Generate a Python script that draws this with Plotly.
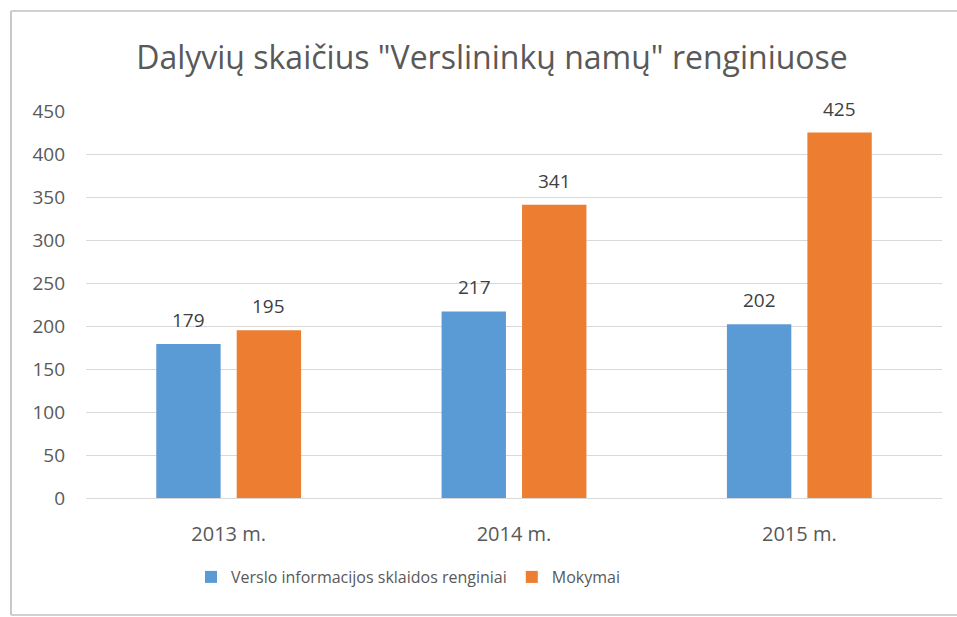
import plotly.graph_objects as go

categories = ["2013 m.", "2014 m.", "2015 m."]
series_names = ["Verslo informacijos sklaidos renginiai", "Mokymai"]
verslo = [179, 217, 202]
mokymai = [195, 341, 425]
y_ticks = [0, 50, 100, 150, 200, 250, 300, 350, 400, 450]

colors = ["#5B9BD5", "#ED7D31"]
FONT = "Open Sans"
W, H = 957, 617
# target plot area in window pixels (body margin removed by post_script)
PX0, PX1, PY0, PY1 = 86, 942, 111, 498
L, R, T, B = PX0, W - PX1, PY0, H - PY1
pw, ph = PX1 - PX0, PY1 - PY0

fig = go.Figure()
for name, vals, col in zip(series_names, [verslo, mokymai], colors):
    fig.add_trace(go.Bar(x=categories, y=vals, name=name, hoverinfo="skip",
                         marker=dict(color=col, line=dict(width=0))))

# data labels
for vals, shift in [(verslo, -40), (mokymai, 40)]:
    for c, v in zip(categories, vals):
        fig.add_annotation(x=c, y=v, text=str(v), showarrow=False, xshift=shift, yshift=24,
                           yanchor="middle", font=dict(family=FONT, size=19, color="#404040"))

def px2paper_x(px):
    return (px - PX0) / pw

def px2paper_y(py):
    return (PY1 - py) / ph

shapes = [
    dict(type="line", xref="paper", yref="paper", x0=px2paper_x(11), x1=px2paper_x(11), y0=px2paper_y(11), y1=px2paper_y(615), line=dict(color="#c8c8c8", width=2)),
    dict(type="line", xref="paper", yref="paper", x0=px2paper_x(11), x1=px2paper_x(957), y0=px2paper_y(11), y1=px2paper_y(11), line=dict(color="#d0d0d0", width=2)),
    dict(type="line", xref="paper", yref="paper", x0=px2paper_x(11), x1=px2paper_x(957), y0=px2paper_y(615), y1=px2paper_y(615), line=dict(color="#d0d0d0", width=2)),
]

fig.update_layout(
    width=W, height=H,
    margin=dict(l=L, r=R, t=T, b=B),
    paper_bgcolor="white", plot_bgcolor="white",
    hovermode=False, dragmode=False,
    title=dict(text='Dalyvių skaičius "Verslininkų namų" renginiuose', x=492 / W, xanchor="center",
               y=1 - 58 / H, yanchor="middle", yref="container",
               font=dict(family=FONT, size=32, color="#595959")),
    barmode="group", bargap=0.436, bargroupgap=0.2,
    showlegend=True,
    legend=dict(orientation="h", x=px2paper_x(191), xanchor="left", y=px2paper_y(577), yanchor="middle",
                font=dict(family=FONT, size=16, color="#595959"), itemwidth=30, traceorder="normal"),
    xaxis=dict(showgrid=False, showline=False, ticks="", ticklabelstandoff=22, fixedrange=True,
               tickfont=dict(family=FONT, size=20, color="#595959")),
    yaxis=dict(range=[0, 450], tickvals=y_ticks, showgrid=True, gridcolor="#d9d9d9", gridwidth=1,
               zeroline=True, zerolinecolor="#d9d9d9", zerolinewidth=1, showline=False, ticks="",
               ticklabelstandoff=20, fixedrange=True, tickfont=dict(family=FONT, size=19, color="#595959")),
    shapes=shapes,
)

fig.write_html("out.html", config={"displayModeBar": False, "staticPlot": True},
               post_script="document.body.style.margin='0';document.documentElement.style.overflow='hidden';document.body.style.overflow='hidden';")
